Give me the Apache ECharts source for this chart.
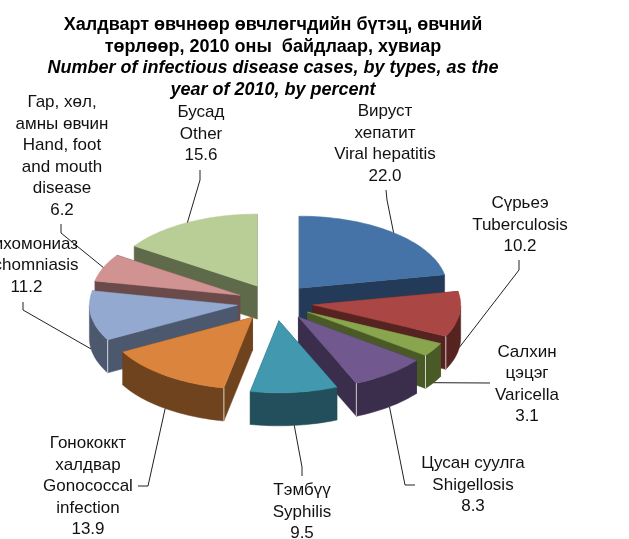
<!DOCTYPE html>
<html>
<head>
<meta charset="utf-8">
<style>
	html, body { margin: 0; padding: 0; background: #fff; }
	#main { width: 629px; height: 539px; }
</style>
<script src="https://cdn.jsdelivr.net/npm/echarts@6/dist/echarts.min.js"></script>
</head>
<body>
<div id="main"></div>
<script>
var categories = [
	'Вируст хепатит', 'Сүрьеэ', 'Салхин цэцэг', 'Цусан суулга', 'Тэмбүү',
	'Гонококкт халдвар', 'Трихомониаз', 'Гар, хөл, амны өвчин', 'Бусад'
];
var labelTexts = [
	'Вируст\nхепатит\nViral hepatitis',
	'Сүрьеэ\nTuberculosis', 'Салхин\nцэцэг\nVaricella', 'Цусан суулга\nShigellosis', 'Тэмбүү\nSyphilis',
	'Гонококкт\nхалдвар\nGonococcal\ninfection', 'Трихомониаз\nTrichomniasis',
	'Гар, хөл,\nамны өвчин\nHand, foot\nand mouth\ndisease', 'Бусад\nOther'
];
var values = [22.0, 10.2, 3.1, 8.3, 9.5, 13.9, 11.2, 6.2, 15.6];
var topColors = ['#4572a7', '#aa4643', '#89a54e', '#71588f', '#4198af', '#db843d', '#93a9cf', '#d19392', '#b9cd96'];
var sideColors = ['#233a58', '#562321', '#4a5a26', '#3b2d4c', '#224f5b', '#6f431e', '#4c586e', '#6b4a4a', '#5f6a4b'];

// page layout of the fake 3D pie
var cx = 275, cy = 302.4, rx = 148, ry = 72, depth = 33, explode = 0.257;

// label centre and leader bends, same order as categories
var labelBoxes = [
	{ x: 385, y: 144, bend: [[387, 200], [386, 190]] },
	{ x: 520, y: 225, bend: [[519, 270], [519, 260]] },
	{ x: 527, y: 384.5, bend: [[490, 383]] },
	{ x: 473, y: 485, bend: [[405, 485], [415, 485]] },
	{ x: 302, y: 512, bend: [[302, 467], [302, 476]] },
	{ x: 88, y: 486.5, bend: [[148, 486], [138, 486]] },
	{ x: 26.5, y: 265.5, bend: [[23, 310], [23, 302]] },
	{ x: 62, y: 156.5, bend: [[61, 233], [61, 224]] },
	{ x: 201, y: 134, bend: [[200, 180], [200, 170]] }
];

var total = values.reduce(function (a, b) { return a + b; }, 0);
var starts = [];
values.reduce(function (sum, v, i) { starts[i] = sum / total * 360; return sum + v; }, 0);

// angle 0 at the top, clockwise
function onEllipse(ox, oy, deg, scale) {
	var r = deg * Math.PI / 180;
	return [ox + rx * scale * Math.sin(r), oy - ry * scale * Math.cos(r)];
}

function down(p) {
	return [p[0], p[1] + depth];
}

function polygon(points, color, z2) {
	return { type: 'polygon', z2: z2, shape: { points: points }, style: { fill: color, stroke: color, lineWidth: 0.5 } };
}

function renderSlice(params, api) {
	var i = api.value(1);
	var start = starts[i];
	var end = start + api.value(0) / total * 360;
	var mid = (start + end) / 2;
	var apex = onEllipse(cx, cy, mid, explode);
	var rank = params.dataIndex * 2;
	var arc = [];
	var front = [];
	for (var d = start; d < end; d += 1.5) {
		arc.push(onEllipse(apex[0], apex[1], d, 1));
	}
	arc.push(onEllipse(apex[0], apex[1], end, 1));
	arc.forEach(function (p) {
		if (p[1] >= apex[1]) {
			front.push(p);
		}
	});
	var first = arc[0], last = arc[arc.length - 1];
	var children = [];

	// cut faces, then the outer wall, then the top
	children.push(polygon([apex, first, down(first), down(apex)], sideColors[i], rank));
	children.push(polygon([apex, last, down(last), down(apex)], sideColors[i], rank));
	if (front.length > 1) {
		children.push(polygon(front.concat(front.slice().reverse().map(down)), sideColors[i], rank));
	}
	children.push(polygon([apex].concat(arc), topColors[i], rank + 1));

	// pale edge where a cut face meets the outer wall
	var corner = end < 180 && end > 90 ? last : (start > 180 && start < 270 ? first : null);
	if (corner) {
		children.push({
			type: 'line', z2: rank + 1,
			shape: { x1: corner[0], y1: corner[1], x2: corner[0], y2: corner[1] + depth },
			style: { stroke: 'rgba(255,255,255,0.75)', lineWidth: 1 }
		});
	}

	// leader from the slice rim (bottom of the wall for front slices) to the label
	var rim = onEllipse(apex[0], apex[1], mid, 1);
	if (Math.cos(mid * Math.PI / 180) < 0) {
		rim = down(rim);
	}
	var box = labelBoxes[i];
	children.push({
		type: 'polyline', z2: 100,
		shape: { points: [rim].concat(box.bend) },
		style: { fill: null, stroke: '#222', lineWidth: 1 }
	});
	children.push({
		type: 'text', z2: 101,
		style: {
			x: box.x, y: box.y, text: labelTexts[i] + '\n' + api.value(0).toFixed(1),
			align: 'center', verticalAlign: 'middle',
			font: '17px "Liberation Sans"', lineHeight: 21.5, fill: '#111'
		}
	});
	return { type: 'group', children: children };
}

var order = values.map(function (v, i) { return i; }).sort(function (a, b) {
	var ma = starts[a] + values[a] / total * 180, mb = starts[b] + values[b] / total * 180;
	return Math.cos(mb * Math.PI / 180) - Math.cos(ma * Math.PI / 180);
});

var myChart = echarts.init(document.getElementById('main'), null, { renderer: 'canvas' });
myChart.setOption({
	animation: false,
	backgroundColor: '#fff',
	title: {
		text: 'Халдварт өвчнөөр өвчлөгчдийн бүтэц, өвчний\nтөрлөөр, 2010 оны  байдлаар, хувиар',
		subtext: 'Number of infectious disease cases, by types, as the\nyear of 2010, by percent',
		left: 268, top: 9, textAlign: 'center', itemGap: 0,
		textStyle: { fontFamily: 'Liberation Sans', fontSize: 18, fontWeight: 'bold', color: '#000', lineHeight: 21.7 },
		subtextStyle: { fontFamily: 'Liberation Sans', fontSize: 18, fontWeight: 'bold', fontStyle: 'italic', color: '#000', lineHeight: 21.7 }
	},
	series: [{
		type: 'custom',
		coordinateSystem: 'none',
		clip: false,
		renderItem: renderSlice,
		data: order.map(function (i) {
			return { name: categories[i], value: [values[i], i] };
		})
	}]
});
</script>
</body>
</html>
